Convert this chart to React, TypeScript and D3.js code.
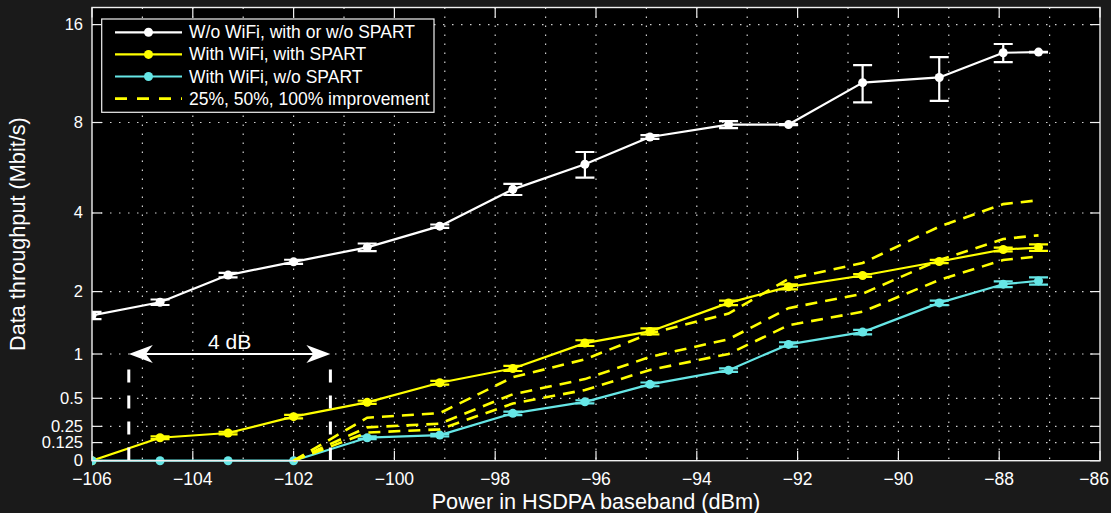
import * as d3 from 'd3'
import React, { useEffect, useRef } from 'react'

// measurement points (dBm)
const power = [-106, -104.65, -103.3, -102, -100.54, -99.1, -97.65, -96.22, -94.93, -93.37, -92.18, -90.71, -89.19, -87.92, -87.22]
// W/o WiFi, with or w/o SPART
const noWifi = [1.57, 1.8, 2.34, 2.64, 3.0, 3.59, 4.83, 5.86, 7.19, 7.88, 7.88, 10.66, 11.06, 13.16, 13.22]
const noWifiErr = [0.06, 0.05, 0.05, 0.05, 0.1, 0.05, 0.21, 0.57, 0.1, 0.2, 0.03, 1.4, 1.7, 0.83, 0.03]
// With WiFi, with SPART
const spart = [0, 0.161, 0.197, 0.331, 0.461, 0.659, 0.821, 1.147, 1.316, 1.788, 2.094, 2.331, 2.648, 2.944, 2.994]
const spartErr = [0, 0.01, 0.01, 0.015, 0.015, 0.02, 0.03, 0.04, 0.045, 0.04, 0.05, 0.03, 0.04, 0.05, 0.085]
// With WiFi, w/o SPART
const noSpart = [0, 0, 0, 0, 0.161, 0.181, 0.36, 0.466, 0.642, 0.801, 1.129, 1.306, 1.788, 2.148, 2.216]
const noSpartErr = [0, 0, 0, 0, 0.01, 0.01, 0.015, 0.015, 0.02, 0.02, 0.03, 0.035, 0.04, 0.06, 0.075]
// improvement references, from -102 dBm on
const impPower = power.slice(3)
const imp25 = [0, 0.201, 0.226, 0.45, 0.583, 0.803, 1.001, 1.411, 1.633, 2.235, 2.685, 2.77]
const imp50 = [0, 0.242, 0.272, 0.54, 0.699, 0.963, 1.202, 1.694, 1.959, 2.682, 3.222, 3.324]
const imp100 = [0, 0.322, 0.362, 0.72, 0.932, 1.284, 1.602, 2.258, 2.612, 3.576, 4.296, 4.432]

const yTicks = [0, 0.125, 0.25, 0.5, 1, 2, 4, 8, 16]
const xTicks = [-106, -104, -102, -100, -98, -96, -94, -92, -90, -88, -86]
const xGrid = d3.range(-105, -86, 1)
const legendLabels = ['W/o WiFi, with or w/o SPART', 'With WiFi, with SPART', 'With WiFi, w/o SPART', '25%, 50%, 100% improvement']
const gap = [-105.27, -101.27] // 4 dB annotation

const W = 1111, H = 513
const left = 92, right = 1100, top = 7.5, bottom = 460.7
const font = '"Liberation Sans", Arial, Helvetica, sans-serif'
const WHITE = '#ffffff', YELLOW = '#ffff00', CYAN = '#66e6e6'

const x = d3.scaleLinear().domain([-106, -86]).range([left, right])
const yl = d3.scaleLinear().domain([0, Math.log2(19)]).range([bottom, top])
const y = (v: number) => yl(Math.log2(1 + v))
const fmt = (v: number) => (v < 0 ? '\u2212' + Math.abs(v) : String(v))

export default function App() {
    const ref = useRef<SVGSVGElement>(null)
    useEffect(() => {
        document.body.style.margin = '0'
        document.body.style.background = '#1a1a1a'
        const svg = d3.select(ref.current)
        svg.selectAll('*').remove()
        svg.append('rect').attr('width', W).attr('height', H).attr('fill', '#1a1a1a')
        svg.append('rect').attr('x', left).attr('y', top).attr('width', right - left).attr('height', bottom - top).attr('fill', '#000')

        svg.append('defs').append('clipPath').attr('id', 'plotclip')
            .append('rect').attr('x', left).attr('y', top).attr('width', right - left).attr('height', bottom - top + 7)

        // grid
        const grid = svg.append('g').attr('stroke', '#d0d0d0').attr('stroke-width', 1.2).attr('stroke-dasharray', '1.5,7.5')
        grid.selectAll('.gx').data(xGrid).join('line')
            .attr('x1', d => x(d)).attr('x2', d => x(d)).attr('y1', top).attr('y2', bottom)
        grid.selectAll('.gy').data(yTicks.filter(d => d > 0)).join('line')
            .attr('x1', left).attr('x2', right).attr('y1', d => y(d)).attr('y2', d => y(d))

        // ticks
        const ticks = svg.append('g').attr('stroke', '#f0f0f0').attr('stroke-width', 1.2)
        xTicks.forEach(t => {
            ticks.append('line').attr('x1', x(t)).attr('x2', x(t)).attr('y1', bottom).attr('y2', bottom - 10)
            ticks.append('line').attr('x1', x(t)).attr('x2', x(t)).attr('y1', top).attr('y2', top + 10)
        })
        yTicks.forEach(t => {
            ticks.append('line').attr('x1', left).attr('x2', left + 10).attr('y1', y(t)).attr('y2', y(t))
            ticks.append('line').attr('x1', right).attr('x2', right - 10).attr('y1', y(t)).attr('y2', y(t))
        })

        const plot = svg.append('g').attr('clip-path', 'url(#plotclip)')
        const line = d3.line<[number, number]>().x(d => x(d[0])).y(d => y(d[1]))

        const series = [
            { v: noWifi, e: noWifiErr, c: WHITE },
            { v: spart, e: spartErr, c: YELLOW },
            { v: noSpart, e: noSpartErr, c: CYAN },
        ]
        series.forEach(s => {
            const pts = power.map((p, i) => [p, s.v[i]] as [number, number])
            plot.append('path').attr('d', line(pts)).attr('fill', 'none')
                .attr('stroke', s.c).attr('stroke-width', 2.2).attr('stroke-linejoin', 'round')
            const eb = plot.append('g').attr('stroke', s.c).attr('stroke-width', 2.2)
            power.forEach((p, i) => {
                if (s.e[i] <= 0) return
                const lo = y(Math.max(0, s.v[i] - s.e[i])), hi = y(s.v[i] + s.e[i]), cx = x(p)
                eb.append('line').attr('x1', cx).attr('x2', cx).attr('y1', lo).attr('y2', hi)
                eb.append('line').attr('x1', cx - 9.5).attr('x2', cx + 9.5).attr('y1', lo).attr('y2', lo)
                eb.append('line').attr('x1', cx - 9.5).attr('x2', cx + 9.5).attr('y1', hi).attr('y2', hi)
            })
            plot.append('g').selectAll('circle').data(pts).join('circle')
                .attr('cx', d => x(d[0])).attr('cy', d => y(d[1])).attr('r', 4.5).attr('fill', s.c)
        })

        ;[imp25, imp50, imp100].forEach(arr => {
            const pts = impPower.map((p, i) => [p, arr[i]] as [number, number])
            plot.append('path').attr('d', line(pts)).attr('fill', 'none')
                .attr('stroke', YELLOW).attr('stroke-width', 2.6).attr('stroke-dasharray', '12,8')
        })

        // 4 dB annotation
        const ann = svg.append('g')
        gap.forEach(g => {
            ann.append('line').attr('x1', x(g)).attr('x2', x(g)).attr('y1', y(0.81)).attr('y2', bottom)
                .attr('stroke', WHITE).attr('stroke-width', 3).attr('stroke-dasharray', '13,13')
        })
        const ay = y(1), ax0 = x(gap[0]), ax1 = x(gap[1])
        ann.append('line').attr('x1', ax0 + 10).attr('x2', ax1 - 10).attr('y1', ay).attr('y2', ay)
            .attr('stroke', WHITE).attr('stroke-width', 2)
        ann.append('path').attr('fill', WHITE)
            .attr('d', `M${ax0},${ay} L${ax0 + 24},${ay - 9} L${ax0 + 17},${ay} L${ax0 + 24},${ay + 9} Z`)
        ann.append('path').attr('fill', WHITE)
            .attr('d', `M${ax1},${ay} L${ax1 - 24},${ay - 9} L${ax1 - 17},${ay} L${ax1 - 24},${ay + 9} Z`)
        ann.append('text').attr('x', (ax0 + ax1) / 2).attr('y', ay - 5).attr('text-anchor', 'middle')
            .attr('fill', WHITE).attr('font-family', font).attr('font-size', 21).text('4 dB')

        // axes box
        svg.append('rect').attr('x', left).attr('y', top).attr('width', right - left).attr('height', bottom - top)
            .attr('fill', 'none').attr('stroke', '#f0f0f0').attr('stroke-width', 1.4)

        // tick labels
        const labels = svg.append('g').attr('fill', WHITE).attr('font-family', font)
        labels.selectAll('.xl').data(xTicks).join('text')
            .attr('x', (d, i) => (i === xTicks.length - 1 ? 1109 : x(d)))
            .attr('y', 485).attr('font-size', 17.5)
            .attr('text-anchor', (d, i) => (i === xTicks.length - 1 ? 'end' : 'middle'))
            .text(d => fmt(d))
        labels.selectAll('.yl').data(yTicks).join('text')
            .attr('x', 83).attr('y', d => y(d) + 5.5).attr('font-size', 16.5)
            .attr('text-anchor', 'end').text(d => String(d))

        svg.append('text').attr('x', (left + right) / 2).attr('y', 509).attr('text-anchor', 'middle')
            .attr('fill', WHITE).attr('font-family', font).attr('font-size', 21.7).text('Power in HSDPA baseband (dBm)')
        svg.append('text').attr('transform', `translate(25 ${(top + bottom) / 2}) rotate(-90)`).attr('text-anchor', 'middle')
            .attr('fill', WHITE).attr('font-family', font).attr('font-size', 21.7).text('Data throughput (Mbit/s)')

        // legend
        const lg = svg.append('g')
        lg.append('rect').attr('x', 101.7).attr('y', 19).attr('width', 332.3).attr('height', 93.3)
            .attr('fill', '#000').attr('stroke', '#f0f0f0').attr('stroke-width', 1.2)
        const colors = [WHITE, YELLOW, CYAN, YELLOW]
        legendLabels.forEach((lab, i) => {
            const ry = 32.3 + i * 22.1
            const l = lg.append('line').attr('x1', 115).attr('x2', 182).attr('y1', ry).attr('y2', ry)
                .attr('stroke', colors[i]).attr('stroke-width', i === 3 ? 2.6 : 2.2)
            if (i === 3) l.attr('stroke-dasharray', '12,10')
            else lg.append('circle').attr('cx', 148.5).attr('cy', ry).attr('r', 4.5).attr('fill', colors[i])
            lg.append('text').attr('x', 189).attr('y', ry + 6).attr('fill', WHITE)
                .attr('font-family', font).attr('font-size', 17.5).text(lab)
        })
    }, [])
    return <svg ref={ref} width={W} height={H} style={{ display: 'block' }}></svg>
}
